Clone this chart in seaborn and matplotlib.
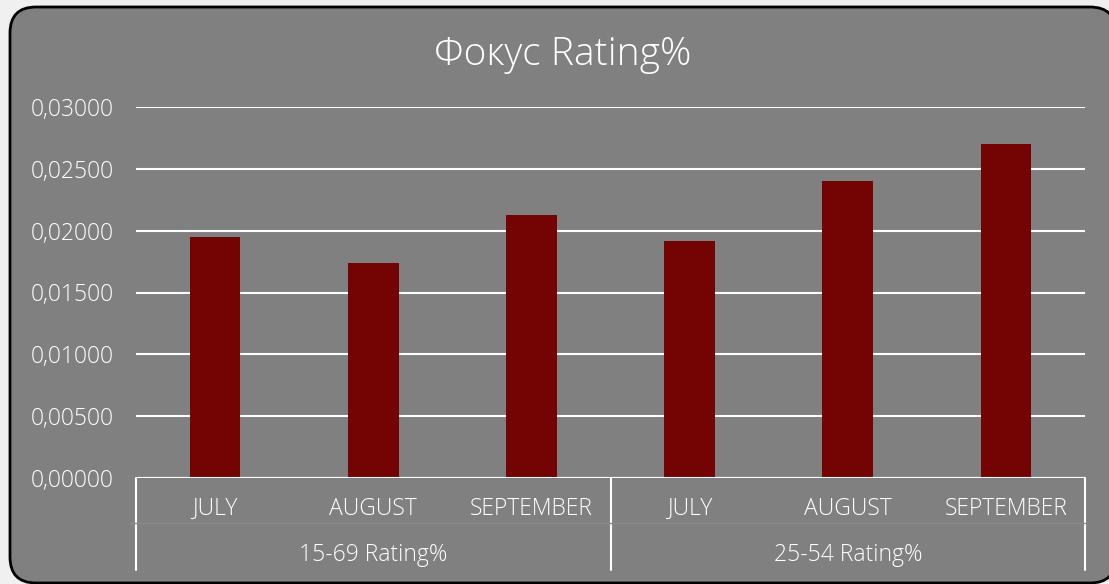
import pandas as pd
import numpy as np
import seaborn as sns
import matplotlib.pyplot as plt
from matplotlib.patches import FancyBboxPatch
from matplotlib.transforms import IdentityTransform

groups = ['15-69 Rating%', '25-54 Rating%']
months = ['JULY', 'AUGUST', 'SEPTEMBER']
rating_1569 = [0.01950, 0.01740, 0.02130]
rating_2554 = [0.01915, 0.02405, 0.02700]
yticks = [0.0, 0.005, 0.01, 0.015, 0.02, 0.025, 0.03]

df = pd.DataFrame({
    'Group': [groups[0]] * 3 + [groups[1]] * 3,
    'Month': months * 2,
    'Rating': rating_1569 + rating_2554,
})
df['Key'] = df['Group'] + '|' + df['Month']

sns.set_style('white')
plt.rcParams['font.family'] = ['Open Sans', 'DejaVu Sans']
plt.rcParams['font.weight'] = 'light'

fig = plt.figure(figsize=(11.09, 5.84), dpi=100)
fig.patch.set_facecolor('#f0f0f0')

# rounded grey panel
panel = FancyBboxPatch((10, 1), 1106, 576, boxstyle='round,pad=0,rounding_size=26',
                       transform=IdentityTransform(), facecolor='#808080',
                       edgecolor='black', linewidth=2, zorder=-10)
fig.patches.append(panel)

ax = fig.add_axes([136 / 1109, 1 - 478 / 584, (1085 - 136) / 1109, 371 / 584])
ax.set_zorder(5)
ax.patch.set_alpha(0)

sns.barplot(data=df, x='Key', y='Rating', order=list(df['Key']), color='#740404',
            width=0.32, saturation=1, linewidth=0, ax=ax, zorder=3)

ax.set_ylim(0, 0.03)
ax.set_xlim(-0.5, 5.5)
ax.set_yticks(yticks)
ax.set_yticklabels([f'{v:.5f}'.replace('.', ',') for v in yticks], color='white', fontsize=16.5)
ax.tick_params(axis='y', length=0, pad=16)
ax.set_xticks([])
ax.set_xlabel('')
ax.set_ylabel('')
for s in ax.spines.values():
    s.set_visible(False)
ax.grid(axis='y', color='white', linewidth=1.5, zorder=1)
ax.set_axisbelow(True)
ax.axhline(0, color='white', linewidth=1.5, zorder=4)

xt = ax.get_xaxis_transform()
for i, m in enumerate(df['Month']):
    ax.text(i, -31 / 371, m, transform=xt, ha='center', va='center', color='white', fontsize=16.5)
for g, gname in enumerate(groups):
    ax.text(g * 3 + 1, -77 / 371, gname, transform=xt, ha='center', va='center',
            color='white', fontsize=16.5)
for xs in [-0.5, 2.5, 5.5]:
    ax.plot([xs, xs], [0, -92 / 371], transform=xt, color='white', linewidth=1.5, clip_on=False)
ax.plot([-0.54, 5.5], [-45 / 371, -45 / 371], transform=xt, color='#8a8a8a', linewidth=1, clip_on=False)

fig.text(563 / 1109, 1 - 55 / 584, 'Фокус Rating%', ha='center', va='center', color='white', fontsize=28)

fig.savefig('out.png', dpi=100, facecolor=fig.get_facecolor())
